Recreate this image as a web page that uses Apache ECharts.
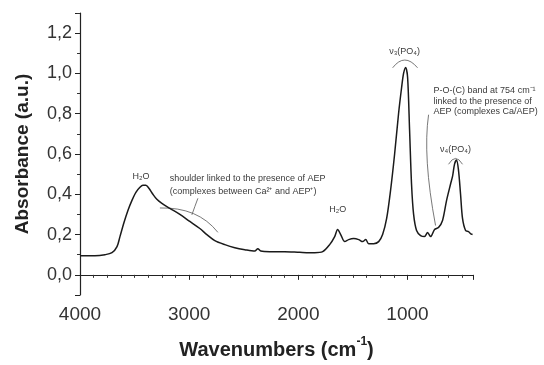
<!DOCTYPE html>
<html>
<head>
<meta charset="utf-8">
<script src="https://cdn.jsdelivr.net/npm/echarts@6/dist/echarts.min.js"></script>
<style>
  html, body { margin: 0; padding: 0; background: #fff; }
  #chart { width: 544px; height: 365px; }
</style>
</head>
<body>
<div id="chart"></div>
<script>
// FTIR spectrum
const wavenumbers = [
  4000, 3863, 3771, 3707, 3661, 3634, 3597, 3561, 3524, 3488, 3451, 3424, 3396, 3369,
  3332, 3296, 3250, 3177, 3085, 2994, 2902, 2838, 2765, 2673, 2582, 2490, 2399, 2371,
  2344, 2262, 2124, 1987, 1850, 1777, 1713, 1667, 1640, 1612, 1575, 1539, 1493, 1447,
  1411, 1383, 1356, 1310, 1264, 1228, 1191, 1155, 1118, 1082, 1054, 1036, 1017, 999,
  981, 963, 944, 917, 880, 844, 816, 789, 752, 716, 679, 642, 606, 587, 569, 551,
  533, 514, 496, 468, 441, 423, 404
];
const absorbance = [
  0.095, 0.095, 0.10, 0.11, 0.14, 0.19, 0.26, 0.32, 0.37, 0.41, 0.435, 0.445, 0.445, 0.43,
  0.40, 0.375, 0.355, 0.33, 0.30, 0.265, 0.23, 0.20, 0.17, 0.15, 0.135, 0.125, 0.118, 0.13,
  0.118, 0.115, 0.115, 0.112, 0.11, 0.115, 0.15, 0.19, 0.225, 0.20, 0.165, 0.175, 0.18, 0.175,
  0.165, 0.175, 0.155, 0.155, 0.165, 0.20, 0.28, 0.42, 0.60, 0.80, 0.93, 1.0, 1.03, 0.98,
  0.72, 0.45, 0.30, 0.22, 0.195, 0.19, 0.21, 0.19, 0.225, 0.235, 0.27, 0.37, 0.45, 0.49, 0.55, 0.57,
  0.52, 0.40, 0.28, 0.22, 0.215, 0.205, 0.20
];

const xName = "Wavenumbers (cm";
const yName = "Absorbance (a.u.)";

// annotation texts, anchored in data coordinates [wavenumber, absorbance]
const labels = [
  { at: [3442, 0.486], text: "H₂O", align: "center" },
  { at: [3177, 0.477], text: "shoulder linked to the presence of AEP", align: "left" },
  { at: [3177, 0.414], text: "(complexes between Ca²⁺ and AEP⁺)", align: "left" },
  { at: [1640, 0.325], text: "H₂O", align: "center" },
  { at: [1027, 1.109], text: "ν₃(PO₄)", align: "center" },
  { at: [761, 0.917], text: "P-O-(C) band at 754 cm⁻¹", align: "left" },
  { at: [761, 0.863], text: "linked to the presence of", align: "left" },
  { at: [761, 0.810], text: "AEP (complexes Ca/AEP)", align: "left" },
  { at: [560, 0.622], text: "ν₄(PO₄)", align: "center" }
];
// curved brackets and leader lines: start, control, end
const curves = [
  [[3268, 0.332], [2920, 0.337], [2737, 0.211]],
  [[2975, 0.298], [2948, 0.34], [2920, 0.38]],
  [[1136, 1.028], [1027, 1.105], [908, 1.028]],
  [[807, 0.795], [862, 0.588], [743, 0.245]],
  [[624, 0.549], [560, 0.607], [496, 0.549]]
];

const font = "'Liberation Sans', Arial, sans-serif";
const chart = echarts.init(document.getElementById("chart"));

const option = {
  animation: false,
  grid: { left: 80, right: 71, top: 13, bottom: 62 },
  xAxis: {
    type: "value",
    inverse: true,
    min: 400,
    max: 4000,
    splitNumber: 4,
    name: "{a|" + xName + "}{s|-1}{a|)}",
    nameLocation: "middle",
    nameGap: 41,
    nameTextStyle: {
      rich: {
        a: { fontFamily: font, fontWeight: "bold", fontSize: 20, color: "#222", lineHeight: 24, verticalAlign: "bottom" },
        s: { fontFamily: font, fontWeight: "bold", fontSize: 12, color: "#222", lineHeight: 24, verticalAlign: "top" }
      }
    },
    axisLine: { lineStyle: { color: "#222", width: 1.2 } },
    axisTick: { length: 5, lineStyle: { color: "#222", width: 1 } },
    minorTick: { show: true, splitNumber: 8, length: 3, lineStyle: { color: "#333", width: 1 } },
    splitLine: { show: false },
    axisLabel: {
      fontFamily: font, fontSize: 19, color: "#333", margin: 10,
      showMinLabel: false,
      formatter: (v) => (v % 1000 === 0 ? String(v) : "")
    }
  },
  yAxis: {
    type: "value",
    min: -0.1,
    max: 1.3,
    splitNumber: 7,
    name: yName,
    nameLocation: "middle",
    nameGap: 48,
    nameTextStyle: { fontFamily: font, fontWeight: "bold", fontSize: 19, color: "#222" },
    axisLine: { show: true, lineStyle: { color: "#222", width: 1.2 } },
    axisTick: { length: 5, lineStyle: { color: "#222", width: 1 } },
    minorTick: { show: true, splitNumber: 2, length: 3, lineStyle: { color: "#333", width: 1 } },
    splitLine: { show: false },
    axisLabel: {
      fontFamily: font, fontSize: 18, color: "#333", margin: 8,
      showMinLabel: false, showMaxLabel: false,
      formatter: (v) => v.toFixed(1).replace(".", ",")
    }
  },
  series: [{
    type: "line",
    data: wavenumbers.map((w, i) => [w, absorbance[i]]),
    symbol: "none",
    smooth: 0.3,
    lineStyle: { color: "#1a1a1a", width: 1.5 }
  }]
};
chart.setOption(option);

const px = (p) => chart.convertToPixel({ gridIndex: 0 }, p);
const graphic = [];
labels.forEach((l) => {
  const p = px(l.at);
  graphic.push({
    type: "text", x: p[0], y: p[1],
    style: { text: l.text, fontFamily: font, fontSize: 9, fill: "#3a3a3a", align: l.align, verticalAlign: "middle" }
  });
});
curves.forEach((c) => {
  const a = px(c[0]), b = px(c[1]), e = px(c[2]);
  graphic.push({
    type: "bezierCurve",
    shape: { x1: a[0], y1: a[1], cpx1: b[0], cpy1: b[1], x2: e[0], y2: e[1] },
    style: { stroke: "#555", lineWidth: 0.8, fill: "none" }
  });
});
chart.setOption({ graphic: graphic });
</script>
</body>
</html>
